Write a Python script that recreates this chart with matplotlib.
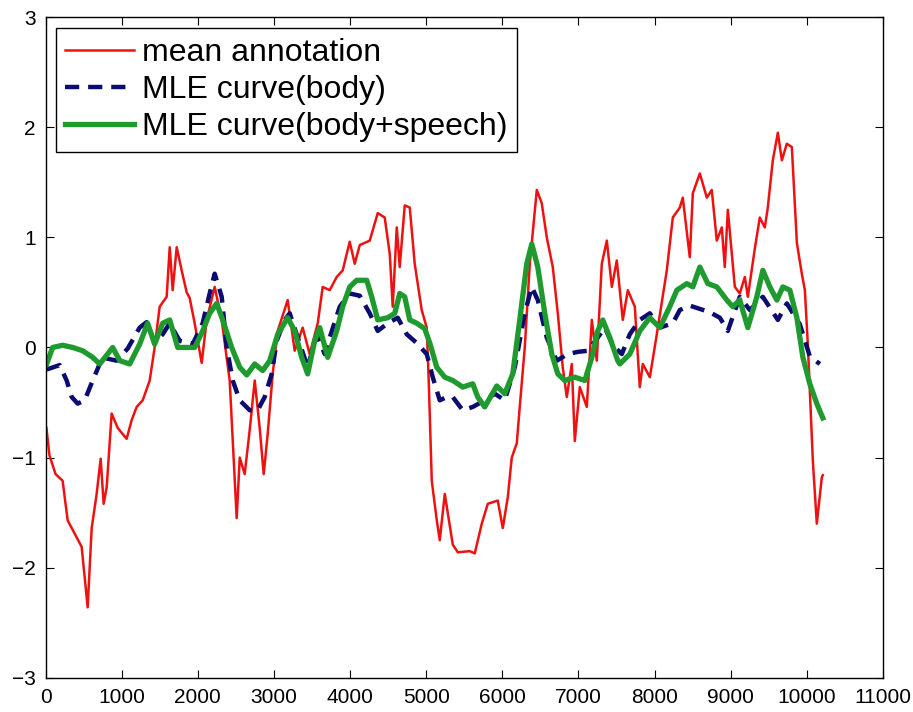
import numpy as np
from matplotlib import pyplot as plt

# mean annotation (red)
mean_x = [10, 50, 130, 223, 289, 381, 473, 552, 605, 670, 723, 762, 802, 867, 946,
          1064, 1130, 1196, 1275, 1367, 1432, 1498, 1590, 1630, 1669, 1722, 1787,
          1853, 1892, 1958, 2050, 2116, 2221, 2313, 2418, 2510, 2550, 2615, 2681,
          2747, 2812, 2865, 2918, 2983, 3049, 3180, 3272, 3377, 3469, 3575, 3640,
          3732, 3824, 3903, 3995, 4061, 4127, 4258, 4363, 4455, 4521, 4560, 4613,
          4652, 4718, 4784, 4849, 4941, 5007, 5033, 5073, 5139, 5178, 5244, 5349,
          5415, 5572, 5638, 5730, 5809, 5940, 6006, 6072, 6124, 6190, 6229, 6295,
          6361, 6453, 6518, 6584, 6663, 6729, 6794, 6847, 6913, 6952, 7018, 7110,
          7176, 7241, 7307, 7373, 7439, 7504, 7583, 7649, 7741, 7806, 7846, 7938,
          8030, 8161, 8240, 8332, 8371, 8463, 8503, 8595, 8687, 8752, 8818, 8884,
          8923, 8963, 9055, 9120, 9186, 9226, 9318, 9383, 9449, 9488, 9554, 9620,
          9673, 9738, 9804, 9870, 9935, 9975, 10014, 10080, 10132, 10198, 10211]
mean_y = [-0.73, -0.98, -1.15, -1.21, -1.57, -1.69, -1.81, -2.36, -1.64, -1.33, -1.01,
          -1.42, -1.27, -0.60, -0.73, -0.83, -0.66, -0.54, -0.48, -0.30, 0.0, 0.37,
          0.46, 0.91, 0.52, 0.91, 0.70, 0.50, 0.45, 0.22, -0.14, 0.25, 0.55, 0.25,
          -0.30, -1.55, -1.0, -1.15, -0.75, -0.30, -0.73, -1.15, -0.78, -0.24, 0.15,
          0.43, -0.03, 0.18, -0.06, 0.22, 0.55, 0.52, 0.64, 0.70, 0.96, 0.76, 0.93,
          0.97, 1.22, 1.18, 0.85, 0.37, 1.09, 0.73, 1.29, 1.27, 0.76, 0.34, 0.18,
          -0.30, -1.21, -1.57, -1.75, -1.33, -1.79, -1.86, -1.85, -1.87, -1.60, -1.42,
          -1.39, -1.64, -1.36, -1.0, -0.87, -0.54, 0.0, 0.76, 1.43, 1.31, 1.0, 0.73,
          0.31, -0.18, -0.45, -0.15, -0.85, -0.36, -0.54, 0.25, -0.12, 0.76, 0.97,
          0.55, 0.79, 0.25, 0.52, 0.37, -0.36, -0.15, -0.27, 0.12, 0.70, 1.18, 1.27,
          1.36, 0.82, 1.40, 1.58, 1.36, 1.43, 0.97, 1.09, 0.73, 1.25, 0.55, 0.49,
          0.64, 0.46, 0.90, 1.18, 1.09, 1.27, 1.70, 1.95, 1.70, 1.85, 1.82, 0.95,
          0.67, 0.52, 0.03, -1.03, -1.60, -1.18, -1.16]

# MLE curve(body) (blue dashed)
body_x = [13, 184, 276, 342, 421, 513, 618, 710, 736, 933, 1078, 1235, 1327, 1432,
          1538, 1630, 1761, 1932, 2063, 2155, 2221, 2313, 2379, 2458, 2550, 2681,
          2786, 2878, 2970, 3036, 3141, 3207, 3312, 3443, 3562, 3667, 3732, 3864,
          3995, 4127, 4258, 4363, 4495, 4626, 4744, 4876, 5007, 5086, 5178, 5270,
          5349, 5480, 5612, 5769, 5901, 6032, 6164, 6295, 6387, 6466, 6584, 6715,
          6860, 6992, 7123, 7254, 7347, 7452, 7570, 7675, 7806, 7938, 8069, 8240,
          8332, 8463, 8595, 8726, 8858, 8963, 9120, 9252, 9423, 9620, 9738, 9909,
          10040, 10172]
body_y = [-0.20, -0.16, -0.30, -0.45, -0.51, -0.48, -0.30, -0.15, -0.09, -0.12, -0.01,
          0.18, 0.23, 0.04, 0.12, 0.22, 0.06, 0.03, 0.22, 0.49, 0.67, 0.46, 0.0,
          -0.30, -0.48, -0.57, -0.57, -0.45, -0.24, 0.06, 0.25, 0.31, 0.09, -0.18,
          0.12, -0.06, 0.09, 0.37, 0.49, 0.47, 0.31, 0.15, 0.22, 0.27, 0.12, 0.04,
          -0.06, -0.27, -0.48, -0.45, -0.45, -0.57, -0.54, -0.48, -0.42, -0.48,
          -0.18, 0.31, 0.55, 0.43, 0.09, -0.12, -0.06, -0.04, -0.03, 0.09, 0.18,
          0.02, -0.06, 0.12, 0.25, 0.31, 0.18, 0.22, 0.34, 0.38, 0.35, 0.32, 0.27,
          0.15, 0.46, 0.34, 0.46, 0.25, 0.40, 0.21, -0.08, -0.15]

# MLE curve(body+speech) (green)
speech_x = [13, 92, 223, 355, 486, 618, 710, 802, 881, 973, 1104, 1235, 1340, 1432,
            1538, 1630, 1735, 1853, 1958, 2063, 2155, 2247, 2326, 2444, 2550, 2642,
            2747, 2852, 2944, 3049, 3180, 3272, 3364, 3443, 3535, 3601, 3706, 3824,
            3903, 3995, 4087, 4219, 4284, 4363, 4495, 4587, 4652, 4718, 4784, 4876,
            4981, 5047, 5139, 5244, 5349, 5480, 5612, 5677, 5769, 5927, 6032, 6137,
            6229, 6321, 6387, 6466, 6558, 6650, 6729, 6821, 6952, 7084, 7176, 7254,
            7320, 7412, 7517, 7544, 7675, 7806, 7938, 8069, 8200, 8293, 8424, 8503,
            8595, 8700, 8818, 8950, 9028, 9120, 9226, 9344, 9423, 9515, 9607, 9686,
            9778, 9870, 9949, 10040, 10132, 10211]
speech_y = [-0.15, 0.0, 0.02, 0.0, -0.03, -0.09, -0.15, -0.07, 0.0, -0.12, -0.15, 0.03,
            0.22, 0.03, 0.22, 0.25, 0.0, 0.0, 0.0, 0.15, 0.31, 0.40, 0.25, 0.0, -0.18,
            -0.25, -0.15, -0.21, -0.12, 0.12, 0.27, 0.15, -0.09, -0.24, 0.06, 0.18,
            -0.09, 0.15, 0.37, 0.55, 0.61, 0.61, 0.46, 0.25, 0.27, 0.31, 0.49, 0.46,
            0.25, 0.22, 0.17, 0.04, -0.18, -0.27, -0.30, -0.36, -0.33, -0.45, -0.54,
            -0.35, -0.42, -0.24, 0.25, 0.76, 0.94, 0.73, 0.31, -0.06, -0.24, -0.30,
            -0.27, -0.30, -0.09, 0.15, 0.25, 0.09, -0.12, -0.15, -0.06, 0.15, 0.27,
            0.18, 0.37, 0.52, 0.58, 0.55, 0.73, 0.58, 0.55, 0.43, 0.37, 0.43, 0.18,
            0.46, 0.70, 0.55, 0.43, 0.55, 0.52, 0.27, -0.09, -0.33, -0.51, -0.64]

labels = ["mean annotation", "MLE curve(body)", "MLE curve(body+speech)"]

plt.rcParams["font.family"] = ["Liberation Sans", "DejaVu Sans"]

fig = plt.figure(figsize=(9.13, 7.12), dpi=100)
ax = fig.add_axes([0.050, 0.048, 0.917, 0.928])

ax.plot(mean_x, mean_y, "-", color="#ee1111", lw=1.8, label=labels[0])
ax.plot(body_x, body_y, "--", color="#0b0b70", lw=3.2, dashes=(3.2, 2.0), label=labels[1])
ax.plot(speech_x, speech_y, "-", color="#1f9a2e", lw=3.8, label=labels[2])

ax.set_xlim(0, 11000)
ax.set_ylim(-3, 3)
ax.set_xticks(np.arange(0, 11001, 1000))
ax.set_yticks(np.arange(-3, 4, 1))
ax.set_yticklabels(["\u22123", "\u22122", "\u22121", "0", "1", "2", "3"])
ax.tick_params(direction="in", length=6, width=0.8, top=True, right=True,
               labelsize=15, pad=7)
for lbl in ax.get_xticklabels() + ax.get_yticklabels():
  lbl.set_family(["Liberation Sans Narrow", "Liberation Sans"])
for s in ax.spines.values():
  s.set_linewidth(1.0)

leg = ax.legend(loc="upper left", bbox_to_anchor=(0.012, 0.983), borderaxespad=0,
                fontsize=23, handlelength=2.15, handletextpad=0.25, labelspacing=0.22,
                borderpad=0.3, fancybox=False, framealpha=1, edgecolor="black")
leg.get_frame().set_linewidth(1.0)

plt.savefig("out.png", dpi=100)
